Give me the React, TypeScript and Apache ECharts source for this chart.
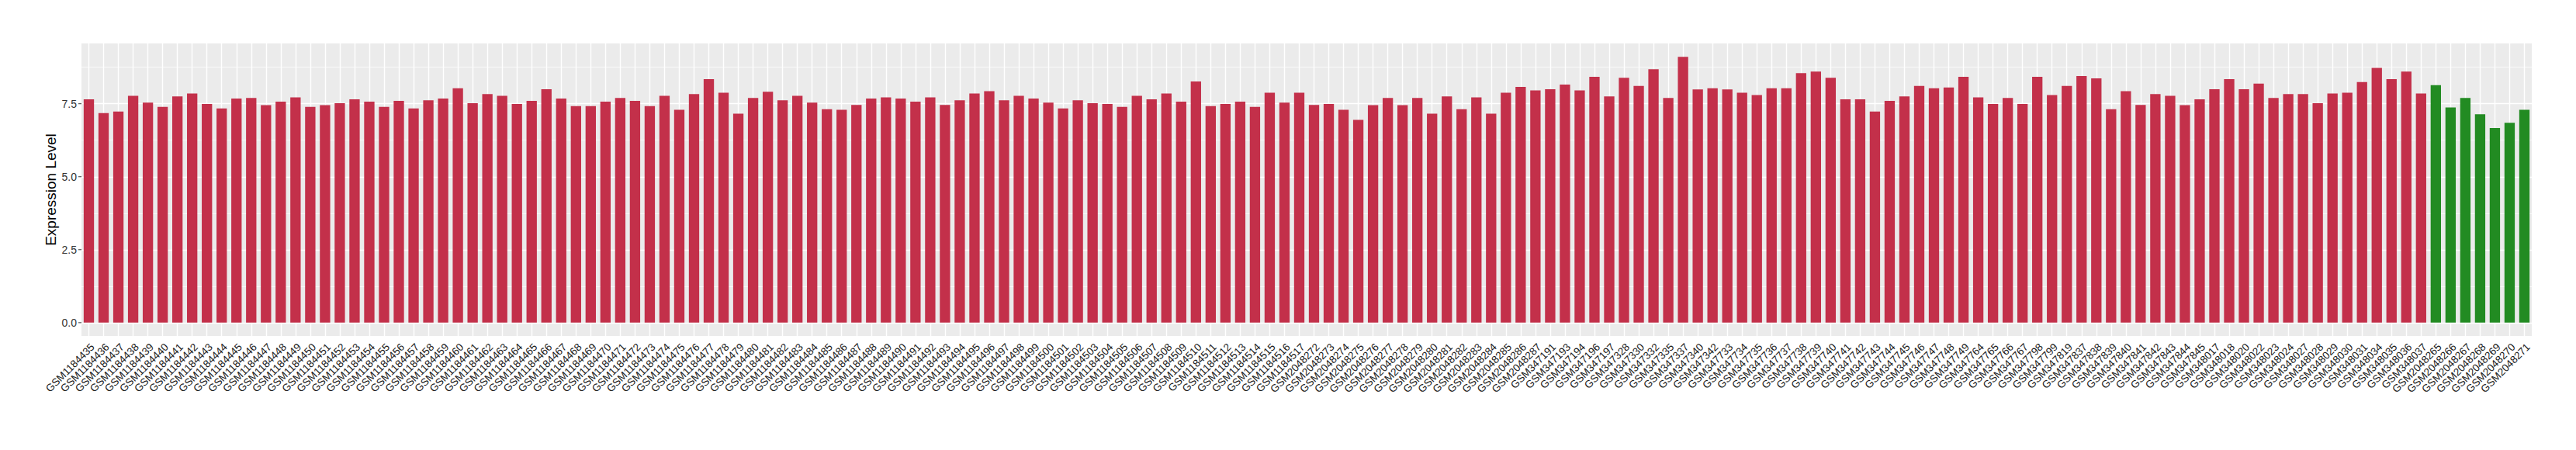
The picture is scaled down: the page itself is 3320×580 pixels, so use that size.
import React, { useEffect, useRef } from "react";
import * as echarts from "echarts";

const redSamples: string[] = [
  "GSM1184435","GSM1184436","GSM1184437","GSM1184438","GSM1184439","GSM1184440","GSM1184441","GSM1184442","GSM1184443","GSM1184444","GSM1184445","GSM1184446",
  "GSM1184447","GSM1184448","GSM1184449","GSM1184450","GSM1184451","GSM1184452","GSM1184453","GSM1184454","GSM1184455","GSM1184456","GSM1184457","GSM1184458","GSM1184459","GSM1184460",
  "GSM1184461","GSM1184462","GSM1184463","GSM1184464","GSM1184465","GSM1184466","GSM1184467","GSM1184468","GSM1184469","GSM1184470","GSM1184471","GSM1184472","GSM1184473","GSM1184474",
  "GSM1184475","GSM1184476","GSM1184477","GSM1184478","GSM1184479","GSM1184480","GSM1184481","GSM1184482","GSM1184483","GSM1184484","GSM1184485","GSM1184486","GSM1184487","GSM1184488",
  "GSM1184489","GSM1184490","GSM1184491","GSM1184492","GSM1184493","GSM1184494","GSM1184495","GSM1184496","GSM1184497","GSM1184498","GSM1184499","GSM1184500","GSM1184501","GSM1184502","GSM1184503",
  "GSM1184504","GSM1184505","GSM1184506","GSM1184507","GSM1184508","GSM1184509","GSM1184510","GSM1184511","GSM1184512","GSM1184513","GSM1184514","GSM1184515","GSM1184516","GSM1184517",
  "GSM2048272","GSM2048273","GSM2048274","GSM2048275","GSM2048276","GSM2048277","GSM2048278","GSM2048279","GSM2048280","GSM2048281","GSM2048282","GSM2048283","GSM2048284","GSM2048285","GSM2048286","GSM2048287",
  "GSM347191","GSM347193","GSM347194","GSM347196","GSM347197","GSM347328","GSM347330","GSM347332","GSM347335","GSM347337","GSM347340","GSM347342",
  "GSM347733","GSM347734","GSM347735","GSM347736","GSM347737","GSM347738","GSM347739","GSM347740","GSM347741","GSM347742","GSM347743","GSM347744","GSM347745","GSM347746","GSM347747",
  "GSM347748","GSM347749","GSM347764","GSM347765","GSM347766","GSM347767","GSM347798","GSM347799","GSM347819","GSM347837","GSM347838","GSM347839","GSM347840","GSM347841",
  "GSM347842","GSM347843","GSM347844","GSM347845",
  "GSM348017","GSM348018","GSM348020","GSM348022","GSM348023","GSM348024","GSM348027","GSM348028","GSM348029","GSM348030","GSM348031","GSM348034","GSM348035","GSM348036","GSM348037"
];

const redValues: number[] = [
  7.65, 7.18, 7.23, 7.77, 7.54, 7.39, 7.75, 7.85, 7.49, 7.34, 7.68, 7.70,
  7.45, 7.57, 7.72, 7.39, 7.45, 7.52, 7.65, 7.57, 7.39, 7.60, 7.34, 7.62, 7.68, 8.03,
  7.52, 7.83, 7.77, 7.49, 7.60, 8.00, 7.68, 7.42, 7.42, 7.57, 7.70, 7.60, 7.42, 7.77,
  7.29, 7.83, 8.34, 7.88, 7.16, 7.70, 7.91, 7.62, 7.77, 7.54, 7.31, 7.29, 7.46, 7.68,
  7.72, 7.68, 7.57, 7.72, 7.46, 7.62, 7.85, 7.93, 7.62, 7.77, 7.68, 7.54, 7.34, 7.62, 7.52,
  7.49, 7.39, 7.77, 7.65, 7.85, 7.57, 8.26, 7.42, 7.49, 7.57, 7.39, 7.88, 7.54, 7.88,
  7.46, 7.49, 7.29, 6.95, 7.45, 7.70, 7.45, 7.70, 7.16, 7.75, 7.31, 7.72, 7.16, 7.88, 8.08, 7.96,
  8.00, 8.16, 7.96, 8.42, 7.75, 8.39, 8.11, 8.68, 7.70, 9.11, 7.99, 8.03,
  7.99, 7.88, 7.80, 8.03, 8.03, 8.55, 8.60, 8.39, 7.65, 7.65, 7.23, 7.60, 7.75, 8.11, 8.03,
  8.06, 8.42, 7.72, 7.49, 7.70, 7.49, 8.42, 7.80, 8.11, 8.45, 8.37, 7.31, 7.93, 7.46,
  7.83, 7.77, 7.45, 7.65,
  8.00, 8.34, 8.00, 8.19, 7.70, 7.83, 7.83, 7.52, 7.85, 7.88, 8.24, 8.73, 8.34, 8.60, 7.85
];

const greenSamples: string[] = [
  "GSM2048265","GSM2048266","GSM2048267","GSM2048268","GSM2048269","GSM2048270","GSM2048271"
];
const greenValues: number[] = [8.14, 7.37, 7.70, 7.14, 6.67, 6.85, 7.29];

const yTickValues: number[] = [0, 2.5, 5, 7.5];
const yTickLabels: string[] = ["0.0", "2.5", "5.0", "7.5"];
const yMinorValues: number[] = [1.25, 3.75, 6.25, 8.75];
const yTitle = "Expression Level";

const RED = "#C3304A";
const GREEN = "#228B22";
const FONT = "'Liberation Sans', Arial, Helvetica, sans-serif";

const GRID_LEFT = 105;
const GRID_TOP = 56;
const GRID_BOTTOM = 147;
const HEIGHT = 580;

export default function App() {
  const ref = useRef<HTMLDivElement>(null);
  useEffect(() => {
    if (!ref.current) return;
    const chart = echarts.init(ref.current, undefined, { renderer: "svg" });
    const categories = [...redSamples, ...greenSamples];
    const allValues = [...redValues, ...greenValues];
    const maxV = Math.max(...allValues);
    const pad = maxV * 0.05;
    const data = [
      ...redValues.map((v) => ({ value: v, itemStyle: { color: RED } })),
      ...greenValues.map((v) => ({ value: v, itemStyle: { color: GREEN } })),
    ];
    const gridLines = [
      ...yTickValues.map((v) => ({ yAxis: v, lineStyle: { width: 1.4 } })),
      ...yMinorValues.map((v) => ({ yAxis: v, lineStyle: { width: 0.7 } })),
      ...categories.map((c) => ({ xAxis: c, lineStyle: { width: 1.4 } })),
    ];
    chart.setOption({
      animation: false,
      grid: {
        left: GRID_LEFT,
        right: 57,
        top: GRID_TOP,
        bottom: GRID_BOTTOM,
        show: true,
        backgroundColor: "#EBEBEB",
        borderWidth: 0,
      },
      xAxis: {
        type: "category",
        data: categories,
        axisLine: { show: false },
        axisTick: { show: true, alignWithLabel: true, interval: 0, length: 4, lineStyle: { color: "#333333", width: 1 } },
        axisLabel: {
          interval: 0,
          rotate: 45,
          align: "right",
          verticalAlign: "top",
          fontSize: 13.5,
          color: "#1A1A1A",
          fontFamily: FONT,
          margin: 7,
        },
        splitLine: { show: false },
      },
      yAxis: {
        type: "value",
        min: -pad,
        max: maxV + pad,
        axisLine: { show: false },
        axisTick: { show: false },
        axisLabel: { show: false },
        splitLine: { show: false },
      },
      series: [
        {
          type: "bar",
          data,
          barWidth: "70%",
          z: 2,
          markLine: {
            silent: true,
            z: 1,
            symbol: ["none", "none"],
            label: { show: false },
            lineStyle: { color: "#FFFFFF", type: "solid", width: 1.4 },
            emphasis: { disabled: true },
            data: gridLines,
          },
        },
      ],
    });

    const graphics: any[] = [
      {
        type: "text",
        x: 65,
        y: (GRID_TOP + (HEIGHT - GRID_BOTTOM)) / 2,
        rotation: Math.PI / 2,
        style: {
          text: yTitle,
          fontSize: 19,
          fontFamily: FONT,
          fill: "#000000",
          align: "center",
          verticalAlign: "middle",
        },
      },
    ];
    yTickValues.forEach((v, i) => {
      const py = chart.convertToPixel({ yAxisIndex: 0 }, v) as number;
      graphics.push({
        type: "line",
        shape: { x1: GRID_LEFT - 4, y1: py, x2: GRID_LEFT, y2: py },
        style: { stroke: "#333333", lineWidth: 1 },
        silent: true,
      });
      graphics.push({
        type: "text",
        x: GRID_LEFT - 6,
        y: py,
        style: {
          text: yTickLabels[i],
          fontSize: 14,
          fontFamily: FONT,
          fill: "#333333",
          align: "right",
          verticalAlign: "middle",
        },
        silent: true,
      });
    });
    chart.setOption({ graphic: graphics });

    return () => chart.dispose();
  }, []);
  return (
    <div
      ref={ref}
      style={{ position: "absolute", left: 0, top: 0, width: 3320, height: 580, background: "#FFFFFF" }}
    />
  );
}
